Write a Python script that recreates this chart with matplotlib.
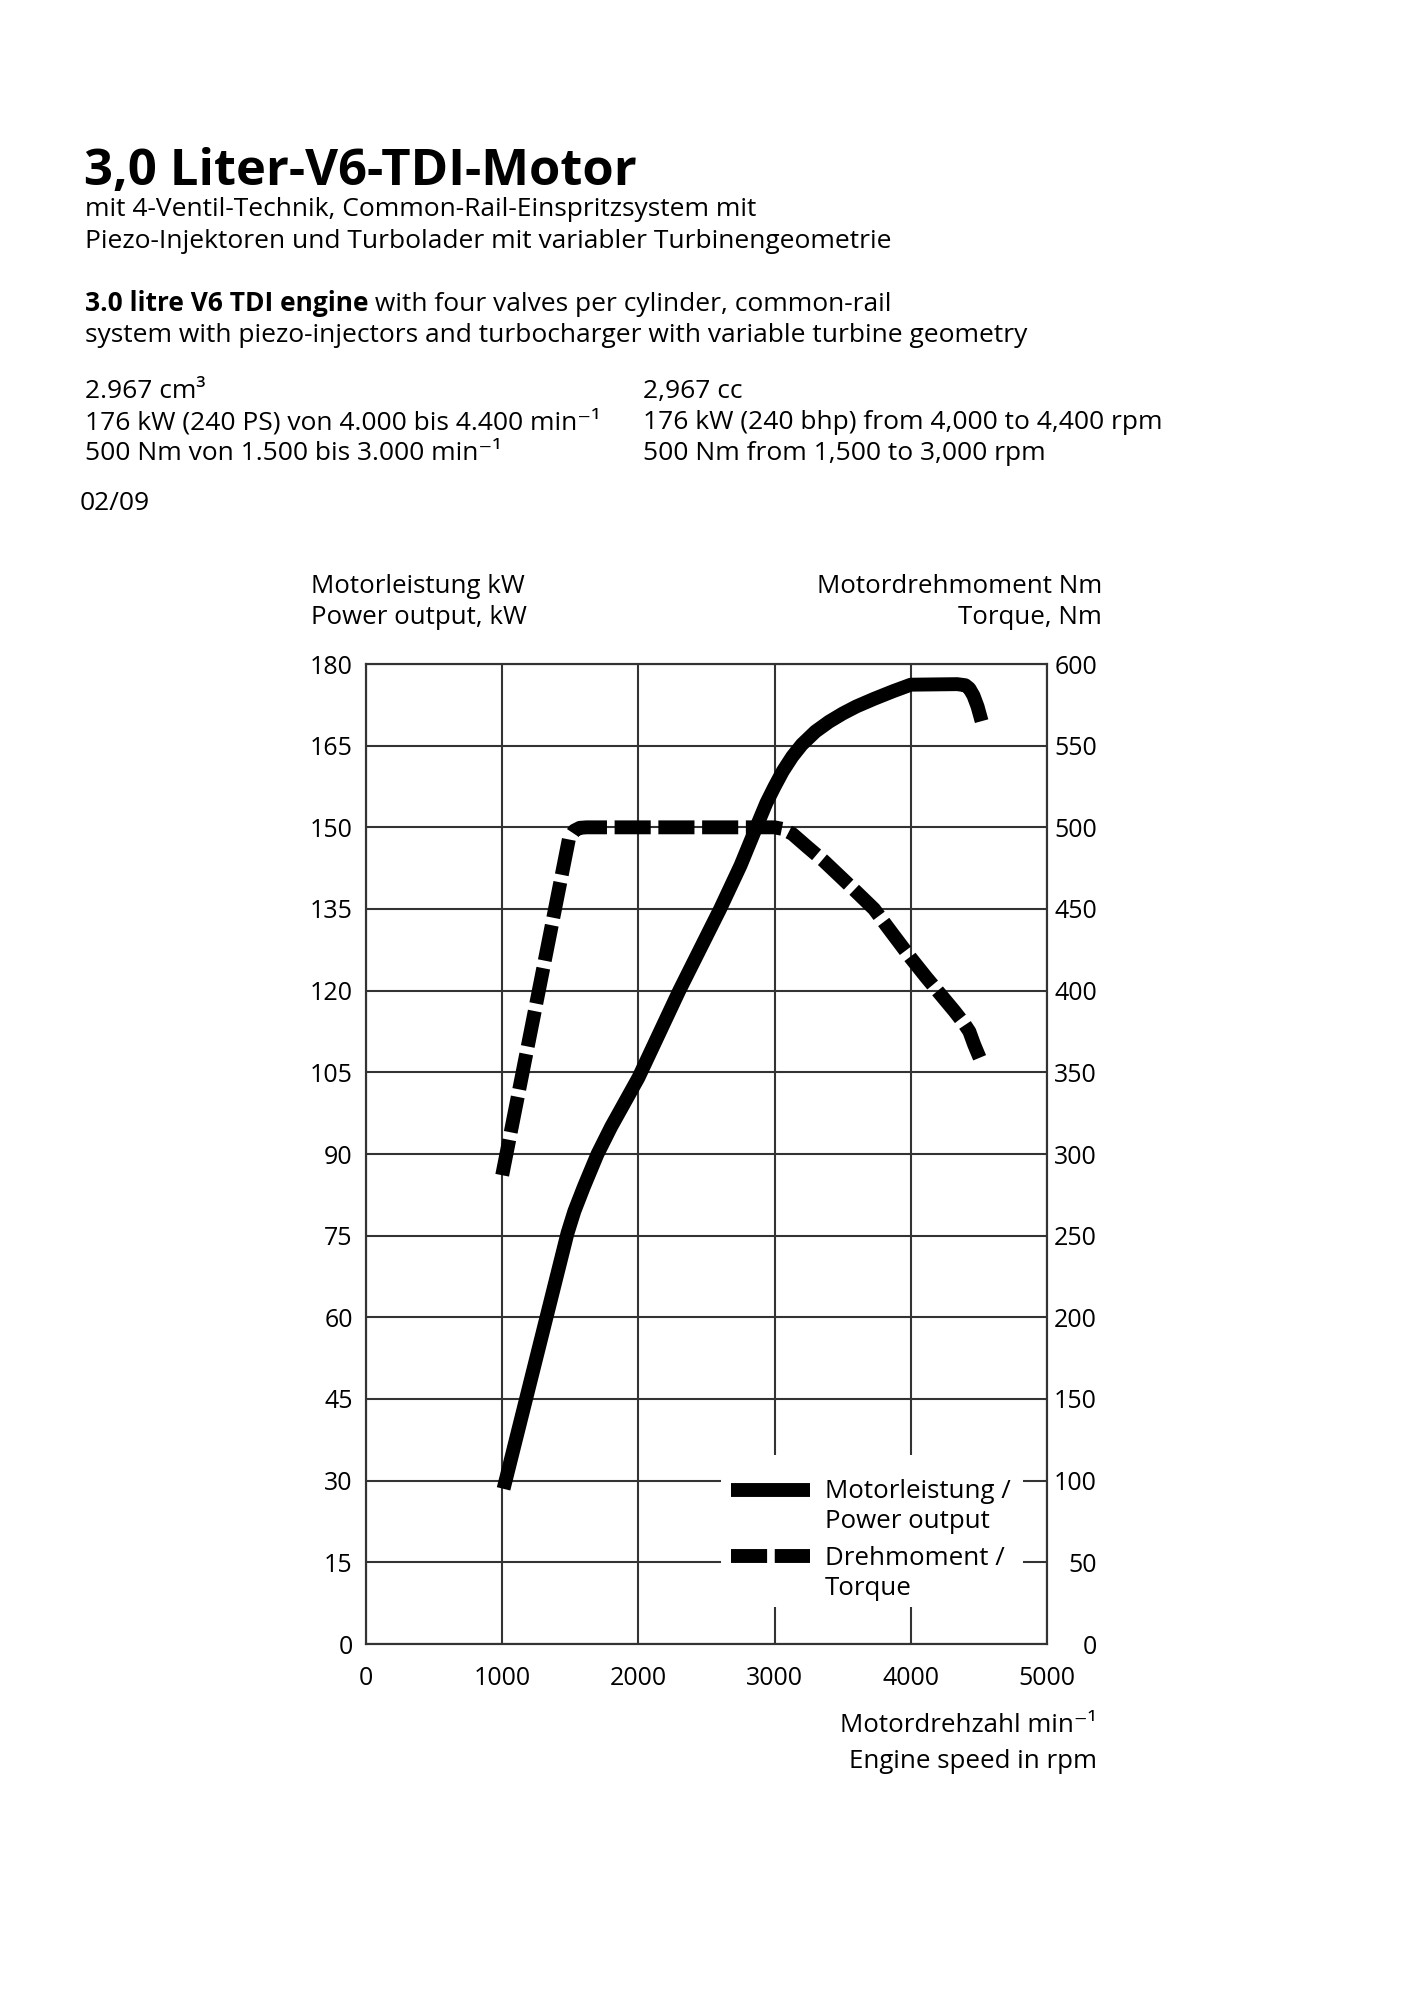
import matplotlib
matplotlib.use("Agg")
import matplotlib.pyplot as plt
from matplotlib.patches import Rectangle
from matplotlib.lines import Line2D

# Schriften
plt.rcParams['font.family'] = ['Open Sans', 'DejaVu Sans']

# Daten
drehzahl_leistung = [1010, 1300, 1480, 1530, 1600, 1700, 1800, 1900, 2000, 2150, 2300, 2450,
                     2600, 2750, 2865, 2940, 3000, 3060, 3130, 3200, 3300, 3400, 3500, 3600,
                     3730, 3870, 4000, 4340, 4400, 4430, 4460, 4490, 4520]
leistung_kw = [28.5, 57.5, 75.5, 79.5, 84, 90, 95, 99.5, 104, 112, 120, 127.5,
               135, 143, 150, 154.5, 157.5, 160.3, 163, 165.2, 167.6, 169.4, 170.9, 172.2,
               173.6, 175, 176.2, 176.3, 176.1, 175.5, 174.2, 172.2, 169.5]

drehzahl_moment = [1000, 1490, 1530, 1570, 1620, 3000, 3060, 3130, 3240, 3360, 3480, 3600,
                   3730, 3860, 4000, 4110, 4220, 4320, 4390, 4430, 4465, 4510]
moment_nm = [287, 493, 498, 499.7, 500, 500, 499, 496, 488, 479.5, 470, 460.5,
             450, 435.5, 420, 408.5, 397.5, 387.5, 380, 375, 367, 358]

x_ticks = [0, 1000, 2000, 3000, 4000, 5000]
kw_ticks = list(range(0, 181, 15))
nm_ticks = list(range(0, 601, 50))

W, H = 1413, 2000
fig = plt.figure(figsize=(W / 100, H / 100), dpi=100)


def fx(x):
    return x / W


def fy(y):
    return 1 - y / H


def txt(x, y, s, size=19, **kw):
    return fig.text(fx(x), fy(y), s, fontsize=size, va='baseline', **kw)


# Kopftext
txt(84, 185, "3,0 Liter-V6-TDI-Motor", size=36.5, fontweight='bold')
txt(85, 216, "mit 4-Ventil-Technik, Common-Rail-Einspritzsystem mit")
txt(85, 248, "Piezo-Injektoren und Turbolader mit variabler Turbinengeometrie")

fett = txt(85, 311, "3.0 litre V6 TDI engine", fontweight='bold')
txt(85, 342, "system with piezo-injectors and turbocharger with variable turbine geometry")

txt(85, 398, "2.967 cm³")
txt(85, 429, "176 kW (240 PS) von 4.000 bis 4.400 min⁻¹")
txt(85, 460, "500 Nm von 1.500 bis 3.000 min⁻¹")
txt(643, 398, "2,967 cc")
txt(643, 429, "176 kW (240 bhp) from 4,000 to 4,400 rpm")
txt(643, 460, "500 Nm from 1,500 to 3,000 rpm")
txt(80, 510, "02/09")

# Achsen
ax = fig.add_axes([fx(366), fy(1644), fx(1047) - fx(366), fy(664) - fy(1644)])
ax2 = ax.twinx()
gridfarbe = '#333333'

ax.set_xlim(0, 5000)
ax.set_ylim(0, 180)
ax2.set_ylim(0, 600)
ax.set_xticks(x_ticks)
ax.set_yticks(kw_ticks)
ax2.set_yticks(nm_ticks)
ax.grid(True, color=gridfarbe, linewidth=1.5)
ax.tick_params(axis='both', length=0, labelsize=18)
ax.tick_params(axis='y', pad=9.5)
ax.tick_params(axis='x', pad=16)
ax2.tick_params(axis='y', length=0, labelsize=18, pad=36)
for lab in ax2.get_yticklabels():
    lab.set_horizontalalignment('right')
for a in (ax, ax2):
    for sp in a.spines.values():
        sp.set_color(gridfarbe)
        sp.set_linewidth(1.5)

lw = 10
ax.plot(drehzahl_leistung, leistung_kw, color='black', linewidth=lw,
        solid_capstyle='butt', solid_joinstyle='round', zorder=5)
ax2.plot(drehzahl_moment, moment_nm, color='black', linewidth=lw,
         dashes=(2.6, 0.55), dash_capstyle='butt', dash_joinstyle='round', zorder=5)

# Legende
ax2.add_patch(Rectangle((fx(721), fy(1607)), fx(1023) - fx(721), fy(1455) - fy(1607),
                        transform=fig.transFigure, facecolor='white', edgecolor='none',
                        zorder=2, clip_on=False))
fig.add_artist(Line2D([fx(731), fx(810)], [fy(1490), fy(1490)], color='black',
                      linewidth=lw, solid_capstyle='butt'))
fig.add_artist(Line2D([fx(731), fx(810)], [fy(1556), fy(1556)], color='black',
                      linewidth=lw, dashes=(2.6, 0.55), dash_capstyle='butt'))
txt(825, 1498, "Motorleistung /", size=18.6)
txt(825, 1528, "Power output", size=18.6)
txt(825, 1565, "Drehmoment /", size=18.6)
txt(825, 1595, "Torque", size=18.6)

# Achsenbeschriftungen
txt(311, 593, "Motorleistung kW", size=18.6)
txt(311, 624, "Power output, kW", size=18.6)
txt(1102, 593, "Motordrehmoment Nm", size=18.6, ha='right')
txt(1102, 624, "Torque, Nm", size=18.6, ha='right')
txt(1097, 1732, "Motordrehzahl min⁻¹", size=18.6, ha='right')
txt(1097, 1768, "Engine speed in rpm", size=18.6, ha='right')

# zweiter Teil der fetten Zeile direkt anschliessen
fig.canvas.draw()
bb = fett.get_window_extent()
fig.text(bb.x1 / W, fy(311), " with four valves per cylinder, common-rail",
         fontsize=19, va='baseline')

fig.savefig("out.png", dpi=100, facecolor='white')
